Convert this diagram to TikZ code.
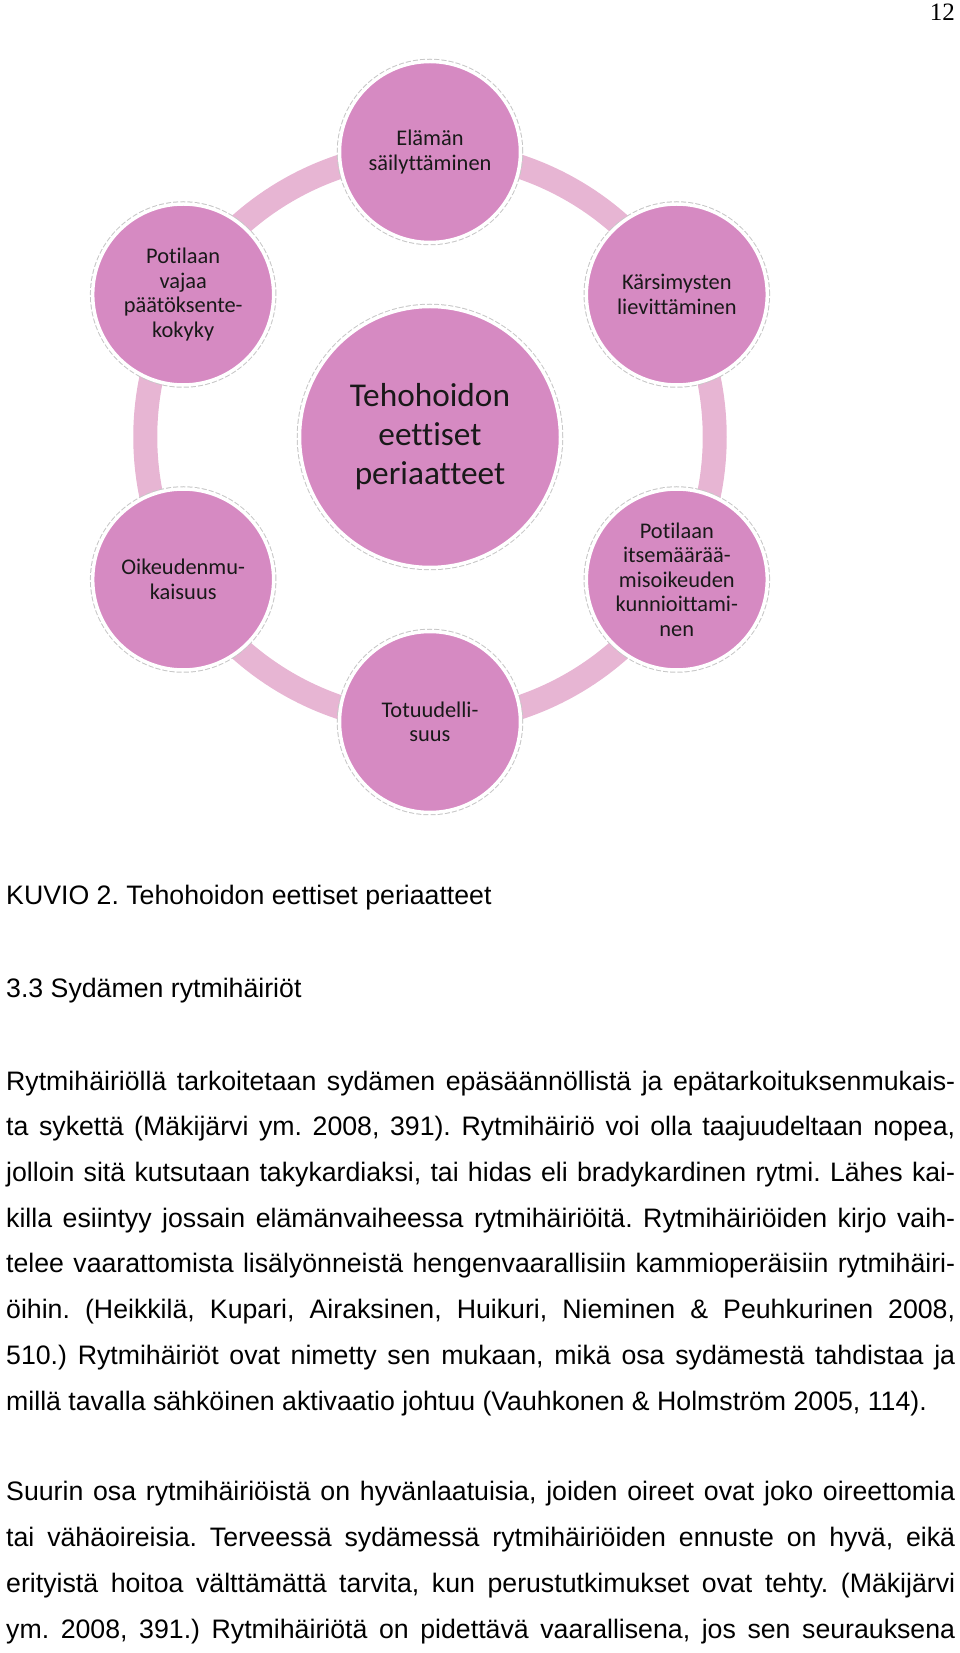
\documentclass[tikz,border=0pt]{standalone}
\usepackage{fontspec}
\setmainfont{Liberation Sans}
\newfontfamily\calibri[Ligatures=NoCommon]{Carlito}
\newfontfamily\timesfont{Liberation Serif}
\usepackage{tikz}
\usetikzlibrary{positioning,backgrounds}
\definecolor{petal}{RGB}{214,138,194}
\definecolor{band}{RGB}{231,181,211}
\newcommand{\jline}[1]{\hbox to 949pt{#1}}
\frenchspacing

\begin{document}
\begin{tikzpicture}[x=1pt, y=1pt,
  petalnode/.style={circle, fill=petal, draw=white, line width=3.5pt,
    preaction={draw=black!22, line width=5.5pt, dash pattern=on 5pt off 2pt},
    minimum size=181pt, inner sep=0pt, align=center, text=black!90,
    font=\calibri\fontsize{22.4}{24.5}\selectfont},
  hub/.style={petalnode, minimum size=261pt,
    font=\calibri\fontsize{33.3}{39}\selectfont},
  ring/.style={draw=band, line width=24pt},
  body/.style={anchor=base west, align=left, inner sep=0pt,
    font=\fontsize{26.7}{45.7}\selectfont}
]
  \useasboundingbox (-430,437) rectangle (530,-1216);

  \node[hub] (hub) at (0,0) {Tehohoidon\\eettiset\\periaatteet};
  \node[petalnode] (life) at (90:285) {Elämän\\säilyttäminen};
  \node[petalnode] (relief) at (30:285) {Kärsimysten\\lievittäminen};
  \node[petalnode] (autonomy) at (-30:285) {Potilaan\\itsemäärää-\\misoikeuden\\kunnioittami-\\nen};
  \node[petalnode] (truth) at (-90:285) {Totuudelli-\\suus};
  \node[petalnode] (justice) at (210:285) {Oikeudenmu-\\kaisuus};
  \node[petalnode] (capacity) at (150:285) {Potilaan\\vajaa\\päätöksente-\\kokyky};

  \begin{scope}[on background layer]
    \foreach \a/\b in {life/relief, relief/autonomy, autonomy/truth,
                       truth/justice, justice/capacity, capacity/life}
      \draw[ring] (\a.center) to[bend left=30, looseness=0.91] (\b.center);
  \end{scope}

  \node[anchor=base east, inner sep=0pt,
        font=\timesfont\fontsize{25}{25}\selectfont] (pagenum) at (525,416) {12};

  \node[body] (caption) at (-424,-467) {KUVIO 2. Tehohoidon eettiset periaatteet};
  \node[body] (heading) at (-424,-560) {3.3 Sydämen rytmihäiriöt};

  % base anchor sits on the last line of a multi-line node
  \node[body] (para1) at (-424,-973) {%
    \jline{Rytmihäiriöllä tarkoitetaan sydämen epäsäännöllistä ja epätarkoituksenmukais-}\\
    \jline{ta sykettä (Mäkijärvi ym. 2008, 391). Rytmihäiriö voi olla taajuudeltaan nopea,}\\
    \jline{jolloin sitä kutsutaan takykardiaksi, tai hidas eli bradykardinen rytmi. Lähes kai-}\\
    \jline{killa esiintyy jossain elämänvaiheessa rytmihäiriöitä. Rytmihäiriöiden kirjo vaih-}\\
    \jline{telee vaarattomista lisälyönneistä hengenvaarallisiin kammioperäisiin rytmihäiri-}\\
    \jline{öihin. (Heikkilä, Kupari, Airaksinen, Huikuri, Nieminen \& Peuhkurinen 2008,}\\
    \jline{510.) Rytmihäiriöt ovat nimetty sen mukaan, mikä osa sydämestä tahdistaa ja}\\
    millä tavalla sähköinen aktivaatio johtuu (Vauhkonen \& Holmström 2005, 114).};

  \node[body] (para2) at (-424,-1201) {%
    \jline{Suurin osa rytmihäiriöistä on hyvänlaatuisia, joiden oireet ovat joko oireettomia}\\
    \jline{tai vähäoireisia. Terveessä sydämessä rytmihäiriöiden ennuste on hyvä, eikä}\\
    \jline{erityistä hoitoa välttämättä tarvita, kun perustutkimukset ovat tehty. (Mäkijärvi}\\
    \jline{ym. 2008, 391.) Rytmihäiriötä on pidettävä vaarallisena, jos sen seurauksena}};
\end{tikzpicture}
\end{document}
